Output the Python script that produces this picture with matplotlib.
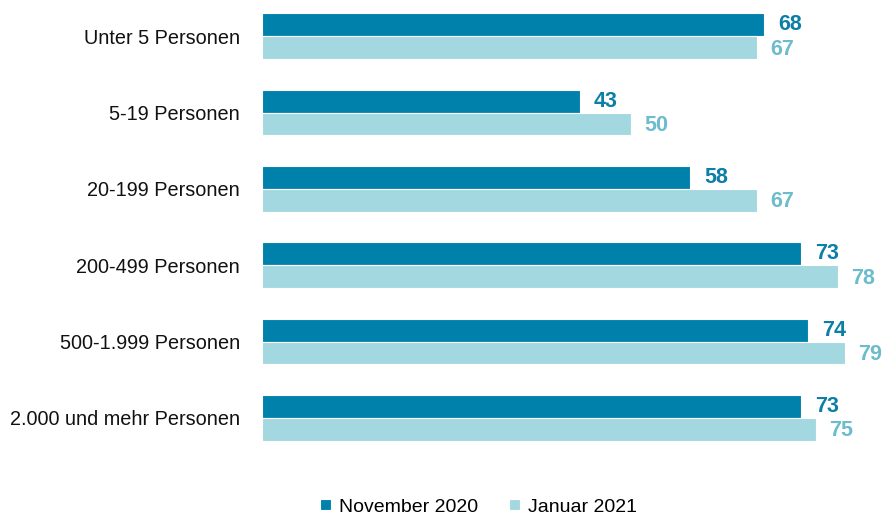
import matplotlib
matplotlib.use("Agg")
import matplotlib.pyplot as plt
from matplotlib import font_manager
import numpy as np

categories = ["Unter 5 Personen", "5-19 Personen", "20-199 Personen",
              "200-499 Personen", "500-1.999 Personen", "2.000 und mehr Personen"]
nov_2020 = [68, 43, 58, 73, 74, 73]
jan_2021 = [67, 50, 67, 78, 79, 75]
series_names = ["November 2020", "Januar 2021"]

avail = {f.name for f in font_manager.fontManager.ttflist}
fam = "Liberation Sans Narrow" if "Liberation Sans Narrow" in avail else "Liberation Sans"
plt.rcParams["font.family"] = [fam, "DejaVu Sans"]

dark = "#0081AB"
light = "#A3D8E1"
dark_txt = "#0B7FA6"
light_txt = "#6CBCCC"

fig = plt.figure(figsize=(8.86, 5.17), dpi=100)
ax = fig.add_axes([262/886, 1 - 456/517, 1 - 262/886, 458/517])

y = np.arange(len(categories))
h = 0.30
b1 = ax.barh(y - h/2, nov_2020, height=h, color=dark, edgecolor="white", linewidth=0.8, label=series_names[0])
b2 = ax.barh(y + h/2, jan_2021, height=h, color=light, edgecolor="white", linewidth=0.8, label=series_names[1])

for rect, v in zip(b1, nov_2020):
    ax.annotate(str(v), (rect.get_width(), rect.get_y() + rect.get_height()/2),
                xytext=(10, 0), textcoords="offset points", va="center", ha="left",
                fontsize=15.5, fontweight="bold", color=dark_txt)
for rect, v in zip(b2, jan_2021):
    ax.annotate(str(v), (rect.get_width(), rect.get_y() + rect.get_height()/2 + 0.02),
                xytext=(9.5, 0), textcoords="offset points", va="center", ha="left",
                fontsize=15.5, fontweight="bold", color=light_txt)

ax.set_xlim(0, 84.5)
ax.set_ylim(len(categories) - 0.5, -0.5)
ax.set_yticks(y)
ax.set_yticklabels(categories, fontsize=14.3, color="#111111")
ax.tick_params(axis="y", length=0, pad=16)
ax.set_xticks([])
for s in ax.spines.values():
    s.set_visible(False)

fig.legend(handles=[b1, b2], labels=series_names, loc="center", bbox_to_anchor=(0.54, 1 - 507/517),
           ncol=2, frameon=False, fontsize=14, handlelength=0.55, handleheight=0.55,
           handletextpad=0.4, columnspacing=1.6)

fig.savefig("out.png", dpi=100)
